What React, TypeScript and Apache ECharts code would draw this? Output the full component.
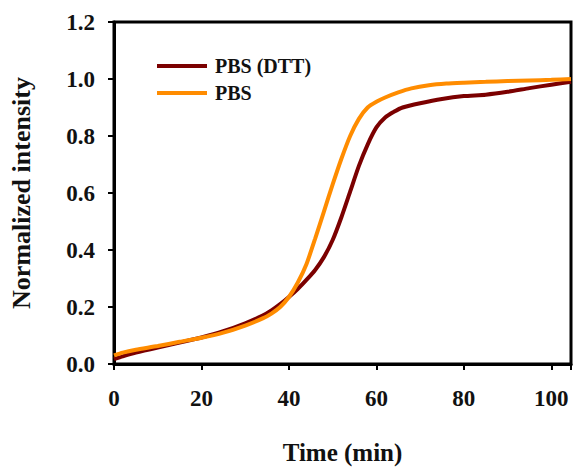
import React, { useEffect, useRef } from "react";
import * as echarts from "echarts";

const seriesNames = ["PBS (DTT)", "PBS"];
const seriesColors = ["#7B0000", "#FF8C00"];

const dttTime = [0, 2, 5, 10, 15, 20, 25, 30, 34, 36, 38, 40, 42, 44, 46, 48, 50, 52, 54, 56, 58, 60, 62, 64, 66, 70, 75, 80, 85, 90, 95, 100, 104.5];
const dttValue = [0.017, 0.027, 0.04, 0.058, 0.075, 0.093, 0.115, 0.143, 0.17, 0.188, 0.21, 0.235, 0.263, 0.295, 0.33, 0.375, 0.435, 0.515, 0.605, 0.695, 0.77, 0.83, 0.865, 0.885, 0.9, 0.915, 0.93, 0.94, 0.945, 0.955, 0.968, 0.98, 0.99];

const pbsTime = [0, 2, 5, 10, 15, 20, 25, 30, 34, 36, 38, 40, 42, 44, 46, 48, 50, 52, 54, 56, 58, 60, 62, 65, 68, 72, 76, 80, 85, 90, 95, 100, 104.5];
const pbsValue = [0.03, 0.04, 0.05, 0.063, 0.078, 0.092, 0.11, 0.135, 0.16, 0.177, 0.2, 0.235, 0.285, 0.35, 0.44, 0.535, 0.63, 0.72, 0.8, 0.86, 0.9, 0.92, 0.935, 0.953, 0.967, 0.978, 0.984, 0.987, 0.99, 0.993, 0.995, 0.997, 1.0];

const xTicks = { min: 0, max: 104.5, interval: 20 };
const yTicks = { min: 0, max: 1.2, interval: 0.2 };

const FONT = "Liberation Serif";

export default function App() {
  const ref = useRef<HTMLDivElement>(null);
  useEffect(() => {
    document.body.style.margin = "0";
    const chart = echarts.init(ref.current!, null, { renderer: "svg" });
    const axisCommon = {
      axisLine: { show: true, lineStyle: { color: "#000", width: 3 } },
      axisTick: { show: true, inside: false, length: 6, lineStyle: { color: "#000", width: 2 } },
      splitLine: { show: false },
      axisLabel: { fontFamily: FONT, fontWeight: "bold", fontSize: 23, color: "#111" },
    };
    chart.setOption({
      animation: false,
      backgroundColor: "#fff",
      textStyle: { fontFamily: FONT },
      grid: { left: 113, right: 2, top: 22, bottom: 103, show: true, borderColor: "#000", borderWidth: 3, containLabel: false },
      legend: {
        orient: "vertical",
        left: 152,
        top: 51,
        itemWidth: 50,
        itemHeight: 4,
        itemGap: 7,
        icon: "rect",
        data: seriesNames,
        textStyle: { fontFamily: FONT, fontWeight: "bold", fontSize: 20, color: "#111", padding: [0, 0, 0, 3] },
      },
      xAxis: {
        type: "value",
        ...xTicks,
        ...axisCommon,
        axisLabel: {
          ...axisCommon.axisLabel,
          margin: 23,
          formatter: (v: number) => (v % 20 === 0 ? String(v) : ""),
        },
        name: "Time (min)",
        nameLocation: "middle",
        nameGap: 76,
        nameTextStyle: { fontFamily: FONT, fontWeight: "bold", fontSize: 25, color: "#111" },
      },
      yAxis: {
        type: "value",
        ...yTicks,
        ...axisCommon,
        axisLabel: { ...axisCommon.axisLabel, margin: 19, formatter: (v: number) => v.toFixed(1) },
        name: "Normalized intensity",
        nameLocation: "middle",
        nameGap: 80,
        nameTextStyle: { fontFamily: FONT, fontWeight: "bold", fontSize: 26, color: "#111", padding: [0, 0, 0, 0] },
      },
      series: [
        {
          name: seriesNames[0],
          type: "line",
          data: dttTime.map((t, i) => [t, dttValue[i]]),
          showSymbol: false,
          smooth: 0.2,
          lineStyle: { color: seriesColors[0], width: 4 },
          itemStyle: { color: seriesColors[0] },
        },
        {
          name: seriesNames[1],
          type: "line",
          data: pbsTime.map((t, i) => [t, pbsValue[i]]),
          showSymbol: false,
          smooth: 0.2,
          lineStyle: { color: seriesColors[1], width: 4 },
          itemStyle: { color: seriesColors[1] },
        },
      ],
    });
    return () => chart.dispose();
  }, []);
  return <div ref={ref} style={{ width: 574, height: 470 }} />;
}
